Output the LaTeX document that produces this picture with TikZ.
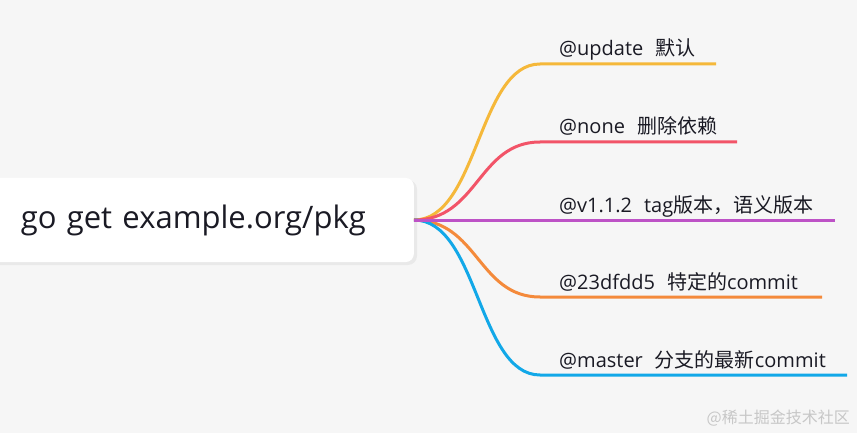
\documentclass[tikz,border=0pt]{standalone}
\usepackage{fontspec}
\setmainfont{Open Sans}
\newfontfamily\cjk{Noto Sans CJK SC}
\usetikzlibrary{positioning}
\definecolor{bgcol}{HTML}{F6F6F6}
\definecolor{yel}{HTML}{F5B83A}
\definecolor{rd}{HTML}{F25468}
\definecolor{pur}{HTML}{BD52C6}
\definecolor{org}{HTML}{F48A3B}
\definecolor{blu}{HTML}{12A8E8}
\definecolor{txt}{HTML}{1A1A24}

\begin{document}
\begin{tikzpicture}[x=1pt,y=-1pt,
    root/.style={fill=white,rounded corners=8pt,minimum height=84pt,
      text width=362pt,inner xsep=31pt,align=left,text=txt,
      font=\fontsize{31}{34}\selectfont},
    leaf/.style={anchor=base west,inner sep=0pt,text=txt,
      font=\fontsize{20}{22}\selectfont},
    branch/.style={line width=3pt,draw=#1}]
  \fill[bgcol] (0,0) rectangle (857,433);
  \useasboundingbox (0,0) rectangle (857,433);
  % soft shadow under the root box
  \fill[black,opacity=0.05,rounded corners=9pt] (-12,180) rectangle (417,265);
  \node[root,anchor=east] (root) at (414,220) {go get example.org/pkg};

  \coordinate (upd-a) at (540,64);  \coordinate (upd-b) at (716,64);
  \coordinate (non-a) at (540,142); \coordinate (non-b) at (737,142);
  \coordinate (ver-a) at (540,220); \coordinate (ver-b) at (835,220);
  \coordinate (hsh-a) at (540,297); \coordinate (hsh-b) at (822,297);
  \coordinate (mst-a) at (540,375); \coordinate (mst-b) at (847,375);

  \node[leaf] (upd) at (559,56)  {@update\hspace{0.6em}{\cjk 默认}};
  \node[leaf] (non) at (559,134) {@none\hspace{0.6em}{\cjk 删除依赖}};
  \node[leaf] (ver) at (559,212) {@v1.1.2\hspace{0.6em}tag{\cjk 版本，语义版本}};
  \node[leaf] (hsh) at (559,289) {@23dfdd5\hspace{0.6em}{\cjk 特定的}commit};
  \node[leaf] (mst) at (559,367) {@master\hspace{0.6em}{\cjk 分支的最新}commit};

  \draw[branch=yel] (root.east) .. controls (478,220) and (478,64) .. (upd-a) -- (upd-b);
  \draw[branch=rd]  (root.east) .. controls (478,220) and (478,142) .. (non-a) -- (non-b);
  \draw[branch=org] (root.east) .. controls (478,220) and (478,297) .. (hsh-a) -- (hsh-b);
  \draw[branch=blu] (root.east) .. controls (478,220) and (478,375) .. (mst-a) -- (mst-b);
  \draw[branch=pur] (root.east) -- (ver-b);

  \node[anchor=base east,inner sep=0pt,text=black!22,
    font=\cjk\fontsize{16}{18}\selectfont] (mark) at (850,423) {@稀土掘金技术社区};
\end{tikzpicture}
\end{document}
